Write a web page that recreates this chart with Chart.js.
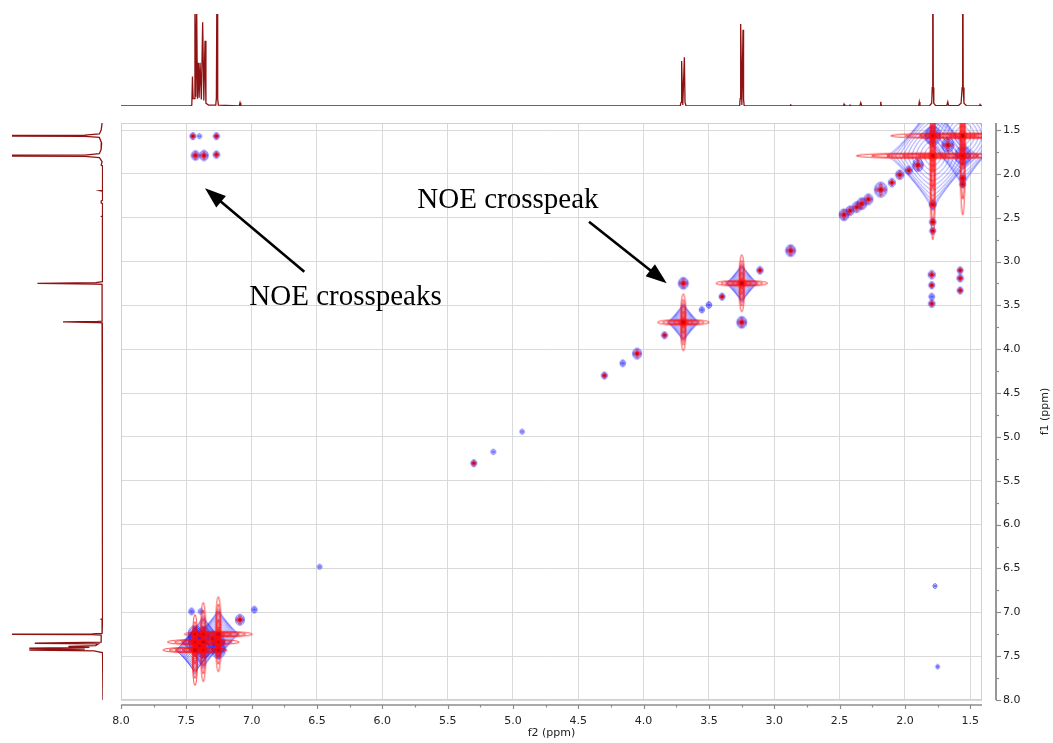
<!DOCTYPE html>
<html><head><meta charset="utf-8">
<script src="https://cdn.jsdelivr.net/npm/chart.js@4.4.1/dist/chart.umd.min.js"></script>
<style>
html,body{margin:0;padding:0;background:#fff;overflow:hidden}
#wrap{position:relative;width:1053px;height:743px}
canvas{position:absolute;left:0;top:0}
</style></head><body>
<div id="wrap">
<canvas id="main" width="1053" height="743"></canvas>
<canvas id="topc" width="1053" height="112"></canvas>
<canvas id="leftc" width="110" height="743"></canvas>
</div>
<script>
// ---------- DATA ----------
// top 1D projection (f2): ppm and relative intensity
const topPpm = [8.0,7.47,7.458,7.453,7.448,7.438,7.434,7.428,7.421,7.415,7.408,7.402,7.395,7.385,7.375,7.366,7.357,7.35,7.33,7.275,7.27,7.265,7.26,7.255,7.095,7.089,7.083,3.72,3.713,3.709,3.700,3.688,3.683,3.675,3.265,3.261,3.257,3.248,3.239,3.235,3.23,2.88,2.874,2.868,2.47,2.466,2.46,2.425,2.42,2.415,2.345,2.338,2.33,2.19,2.185,2.18,1.895,1.89,1.885,1.81,1.795,1.791,1.787,1.783,1.779,1.765,1.68,1.672,1.666,1.59,1.57,1.562,1.558,1.554,1.548,1.53,1.43,1.425,1.42,1.41];
const topInt = [0,0,1,32,8,8,110,10,110,8,47,9,47,7,91,6,71,3,1,1,8,160,8,1,0,3.5,0,0,4,49,1,53,4,0,0,8,89,1,83,7,0,0,1.2,0,0,2,0,0,1,0,0,3.5,0,0,4.5,0,0,4.3,0,0.5,3,20,300,20,3,0.5,0.3,4.3,0.3,0.5,3,20,300,20,3,0.5,0,1.6,0,0];
// left 1D projection (f1)
const leftPpm = [1.42,1.50,1.545,1.558,1.565,1.572,1.585,1.65,1.72,1.77,1.786,1.793,1.80,1.815,1.86,1.90,1.91,2.19,2.192,2.197,2.30,2.31,2.33,2.34,2.48,2.485,2.49,2.887,2.89,2.895,3.23,3.240,3.248,3.256,3.26,3.68,3.683,3.689,3.695,3.70,7.07,7.079,7.085,7.24,7.245,7.25,7.255,7.26,7.34,7.35,7.353,7.36,7.38,7.39,7.40,7.41,7.42,7.43,7.44,7.46,8.0];
const leftInt = [1,2,4,20,300,20,4,1.5,2,4,20,300,20,4,1,2,0.5,0.5,3,0.5,0.5,2,2,0.5,0.5,1.5,0.5,0.5,1,0.5,0.5,8,72,8,1,1,6,44,6,1,0.5,2,0.5,1,12,150,12,2,2,58,75,5,8,38,15,81,20,81,10,0.5,0];
// 2D peaks: f2 (ppm), f1 (ppm), relative intensity
const peakF2 = [1.787,1.558,3.249,3.696,7.255,7.370,7.434,
  7.255,7.434,7.370,7.255,7.434,7.370,7.300,7.400,
  7.090,6.980,7.460,7.390,
  1.672,1.900,1.970,2.040,2.100,2.185,2.280,2.330,2.370,2.420,2.466,2.875,3.110,3.400,3.500,3.555,3.840,4.050,4.160,4.300,4.930,5.150,5.300,6.480,
  3.696,3.249,
  1.795,1.795,1.795,1.795,1.577,1.577,1.577,1.770,1.750,
  7.450,7.400,7.270,7.430,7.365,7.270,
  1.558,1.787,1.787,1.787,1.787,1.558,1.558];
const peakF1 = [1.793,1.565,3.248,3.693,7.250,7.340,7.430,
  7.430,7.250,7.250,7.340,7.340,7.430,7.300,7.380,
  7.085,6.970,6.990,6.990,
  1.672,1.900,1.960,2.010,2.100,2.180,2.290,2.340,2.380,2.420,2.466,2.875,3.100,3.400,3.495,3.550,3.840,4.050,4.160,4.300,4.940,5.170,5.300,6.480,
  3.248,3.693,
  3.150,3.270,3.400,3.480,3.100,3.190,3.330,6.700,7.620,
  1.570,1.570,1.570,1.790,1.790,1.780,
  1.793,1.565,2.350,2.550,2.650,2.050,2.120];
const peakInt = [450,400,52,52,90,100,80,
  12,12,10,10,10,10,8,8,
  4,1,1,0.6,
  8,6,2,3,2,9,4,5,4,3,5,5,1.5,1.2,1,0.8,1.2,4,1,1.2,0.4,0.5,1.2,0.4,
  5,5,
  2,1.2,1,1.5,1.2,1.5,1.2,0.3,0.2,
  1.2,0.4,1.2,3,3.5,1.5,
  15,15,2,1.5,1.2,1.5,1.2];

// ---------- SETTINGS ----------
const X_MIN = 1.41, X_MAX = 8.0, Y_MIN = 1.42, Y_MAX = 8.0;
const SPEC_COLOR = '#8e1212';
const FONT = 'DejaVu Sans';
const annotations = {
  texts: [ {text:'NOE crosspeak', f2:5.732, f1:2.393}, {text:'NOE crosspeaks', f2:7.018, f1:3.495} ],
  arrows: [ {from:[6.597,3.116], to:[7.357,2.165]}, {from:[4.418,2.545], to:[3.823,3.248]} ]
};

// ---------- SPRITES ----------
function superellipse(g, rx, ry, p){
  g.beginPath();
  const N = 80;
  for(let i=0;i<=N;i++){
    const t = i/N*2*Math.PI, c = Math.cos(t), s = Math.sin(t);
    const x = rx*Math.sign(c)*Math.pow(Math.abs(c),2/p);
    const y = ry*Math.sign(s)*Math.pow(Math.abs(s),2/p);
    if(i) g.lineTo(x,y); else g.moveTo(x,y);
  }
  g.closePath(); g.stroke();
}
function newCanvas(half){
  const c = document.createElement('canvas');
  c.width = c.height = 2*half;
  const g = c.getContext('2d'); g.translate(half, half);
  return [c,g];
}
function blueSprite(I){
  const big = I >= 20;
  const r = big ? 1.2 + 2.1*Math.sqrt(I) : 1.0 + 1.7*Math.sqrt(I);
  const rx = r, ry = r*1.2;
  const n = big ? 11 : Math.max(2, Math.round(1.5 + 1.2*Math.log2(1+I)));
  const half = Math.ceil(ry) + 3;
  const [c,g] = newCanvas(half);
  g.strokeStyle = big ? 'rgba(20,20,255,0.8)' : 'rgba(20,20,255,0.9)';
  g.lineWidth = big ? 0.6 : 0.8;
  for(let k=n;k>=1;k--){
    const s = k/n;
    const p = big ? (0.85 + 1.1*(1-s)) : 2;
    superellipse(g, rx*s, ry*s, p);
  }
  if(!big){ g.fillStyle='rgba(20,20,255,0.55)'; g.beginPath(); g.ellipse(0,0,Math.max(0.8,rx*0.35),Math.max(0.8,ry*0.35),0,0,2*Math.PI); g.fill(); }
  return c;
}
function redSprite(I){
  if(I < 1.2){ const [c] = newCanvas(1); return c; }
  const big = I >= 20;
  const armH = big ? 3.6*Math.sqrt(I) : 2.0*Math.sqrt(I);
  const armV = armH*1.1;
  const w = big ? 2.8 : 1.3;
  const m = big ? 5 : 2;
  const half = Math.ceil(Math.max(armH, armV)) + 3;
  const [c,g] = newCanvas(half);
  g.strokeStyle = 'rgba(255,10,10,0.9)'; g.lineWidth = 0.8;
  for(let j=0;j<m;j++){
    const f = 1 - j/m;
    g.beginPath(); g.ellipse(0,0,armH*f,Math.max(0.6,w*f),0,0,2*Math.PI); g.stroke();
    g.beginPath(); g.ellipse(0,0,Math.max(0.6,w*f),armV*f,0,0,2*Math.PI); g.stroke();
  }
  g.fillStyle = 'rgba(200,0,0,0.9)';
  g.beginPath(); g.arc(0,0,big?2:1.2,0,2*Math.PI); g.fill();
  return c;
}
const peakPts = peakF2.map((v,i)=>({x:v, y:peakF1[i]}));
const blueSprites = peakInt.map(blueSprite);
const redSprites = peakInt.map(redSprite);

// ---------- MAIN 2D CHART ----------
const axisPlugin = {
  id:'nmrAxes',
  beforeDatasetsDraw(chart){
    const {ctx, chartArea:a} = chart;
    ctx.save();
    ctx.strokeStyle = '#d0d0d0'; ctx.lineWidth = 1;
    ctx.strokeRect(a.left+0.5, a.top+0.5, a.right-a.left-1, a.bottom-a.top-1);
    ctx.restore();
  },
  afterDatasetsDraw(chart){
    const {ctx, scales:{x,y}} = chart;
    ctx.save();
    ctx.fillStyle = '#000'; ctx.strokeStyle = '#000';
    ctx.font = '29px "Liberation Serif"'; ctx.textAlign = 'left'; ctx.textBaseline = 'alphabetic';
    annotations.texts.forEach(t=> ctx.fillText(t.text, x.getPixelForValue(t.f2), y.getPixelForValue(t.f1)));
    annotations.arrows.forEach(ar=>{
      const x0 = x.getPixelForValue(ar.from[0]), y0 = y.getPixelForValue(ar.from[1]);
      const x1 = x.getPixelForValue(ar.to[0]), y1 = y.getPixelForValue(ar.to[1]);
      const ang = Math.atan2(y1-y0, x1-x0), L = 21, W = 7.5;
      const bx = x1 - L*Math.cos(ang), by = y1 - L*Math.sin(ang);
      ctx.lineWidth = 2.6; ctx.beginPath(); ctx.moveTo(x0,y0); ctx.lineTo(bx+2*Math.cos(ang),by+2*Math.sin(ang)); ctx.stroke();
      ctx.beginPath(); ctx.moveTo(x1,y1);
      ctx.lineTo(bx + W*Math.sin(ang), by - W*Math.cos(ang));
      ctx.lineTo(bx - W*Math.sin(ang), by + W*Math.cos(ang));
      ctx.closePath(); ctx.fill();
    });
    ctx.restore();
  },
  afterDraw(chart){
    const {ctx, chartArea:a, scales:{x,y}} = chart;
    ctx.save();
    ctx.strokeStyle = '#8c8c8c'; ctx.lineWidth = 1.6;
    const ya = a.bottom + 5;
    ctx.beginPath(); ctx.moveTo(a.left, ya); ctx.lineTo(a.right, ya); ctx.stroke();
    ctx.lineWidth = 1.2;
    for(let v=1.5; v<=8.001; v+=0.25){
      const px = Math.round(x.getPixelForValue(v))+0.5;
      const major = Math.abs(v*2-Math.round(v*2))<1e-6;
      ctx.beginPath(); ctx.moveTo(px, ya); ctx.lineTo(px, ya+(major?4:2.5)); ctx.stroke();
    }
    const xa = a.right + 14;
    ctx.lineWidth = 1.8;
    ctx.beginPath(); ctx.moveTo(xa, a.top); ctx.lineTo(xa, a.bottom); ctx.stroke();
    ctx.lineWidth = 1.2;
    for(let v=1.5; v<=8.001; v+=0.25){
      const py = Math.round(y.getPixelForValue(v))+0.5;
      const major = Math.abs(v*2-Math.round(v*2))<1e-6;
      ctx.beginPath(); ctx.moveTo(xa, py); ctx.lineTo(xa+(major?5:3), py); ctx.stroke();
    }
    ctx.fillStyle = '#222'; ctx.font = '11px "' + FONT + '"';
    ctx.textAlign = 'center'; ctx.textBaseline = 'middle';
    ctx.fillText('f2 (ppm)', (a.left+a.right)/2, 733);
    ctx.translate(1045, (a.top+a.bottom)/2); ctx.rotate(-Math.PI/2);
    ctx.fillText('f1 (ppm)', 0, 0);
    ctx.restore();
  }
};

const tickFont = {family: FONT, size: 11};
new Chart(document.getElementById('main'), {
  type:'scatter',
  data:{datasets:[
    {data:peakPts, pointStyle: c=>blueSprites[c.dataIndex], pointRadius:3, order:1},
    {data:peakPts, pointStyle: c=>redSprites[c.dataIndex], pointRadius:3, order:0}
  ]},
  options:{
    responsive:false, animation:false, events:[],
    layout:{padding:{left:121, top:123, right:0, bottom:0}},
    plugins:{legend:{display:false}, tooltip:{enabled:false}},
    scales:{
      x:{type:'linear', position:'bottom', reverse:true, min:X_MIN, max:X_MAX,
         afterFit:s=>{s.height = 43;},
         grid:{color:'#d9d9d9', drawTicks:false}, border:{display:false},
         ticks:{stepSize:0.5, includeBounds:false, padding:15, maxRotation:0, autoSkip:false, color:'#222', font:tickFont, callback:v=>Number(v).toFixed(1)}},
      y:{type:'linear', position:'right', reverse:true, min:Y_MIN, max:Y_MAX,
         afterFit:s=>{s.width = 71;},
         grid:{color:'#d9d9d9', drawTicks:false}, border:{display:false},
         ticks:{stepSize:0.5, includeBounds:false, padding:21, autoSkip:false, color:'#222', font:tickFont, callback:v=>Number(v).toFixed(1)}}
    }
  },
  plugins:[axisPlugin]
});

// ---------- TOP 1D ----------
new Chart(document.getElementById('topc'), {
  type:'scatter',
  data:{datasets:[{data: topPpm.map((p,i)=>({x:p, y:topInt[i]})), showLine:true, pointRadius:0, borderColor:SPEC_COLOR, borderWidth:1.3, tension:0}]},
  options:{
    responsive:false, animation:false, events:[],
    layout:{padding:{left:121, right:71, top:14, bottom:6}},
    plugins:{legend:{display:false}, tooltip:{enabled:false}},
    scales:{
      x:{type:'linear', display:false, reverse:true, min:X_MIN, max:X_MAX},
      y:{type:'linear', display:false, min:0, max:100}
    }
  }
});

// ---------- LEFT 1D ----------
new Chart(document.getElementById('leftc'), {
  type:'scatter',
  data:{datasets:[{data: leftPpm.map((p,i)=>({x:leftInt[i], y:p})), showLine:true, pointRadius:0, borderColor:SPEC_COLOR, borderWidth:1.3, tension:0}]},
  options:{
    responsive:false, animation:false, events:[],
    layout:{padding:{left:12, right:7, top:123, bottom:43}},
    plugins:{legend:{display:false}, tooltip:{enabled:false}},
    scales:{
      x:{type:'linear', display:false, reverse:true, min:0, max:100},
      y:{type:'linear', display:false, reverse:true, min:Y_MIN, max:Y_MAX}
    }
  }
});
</script>
</body></html>
